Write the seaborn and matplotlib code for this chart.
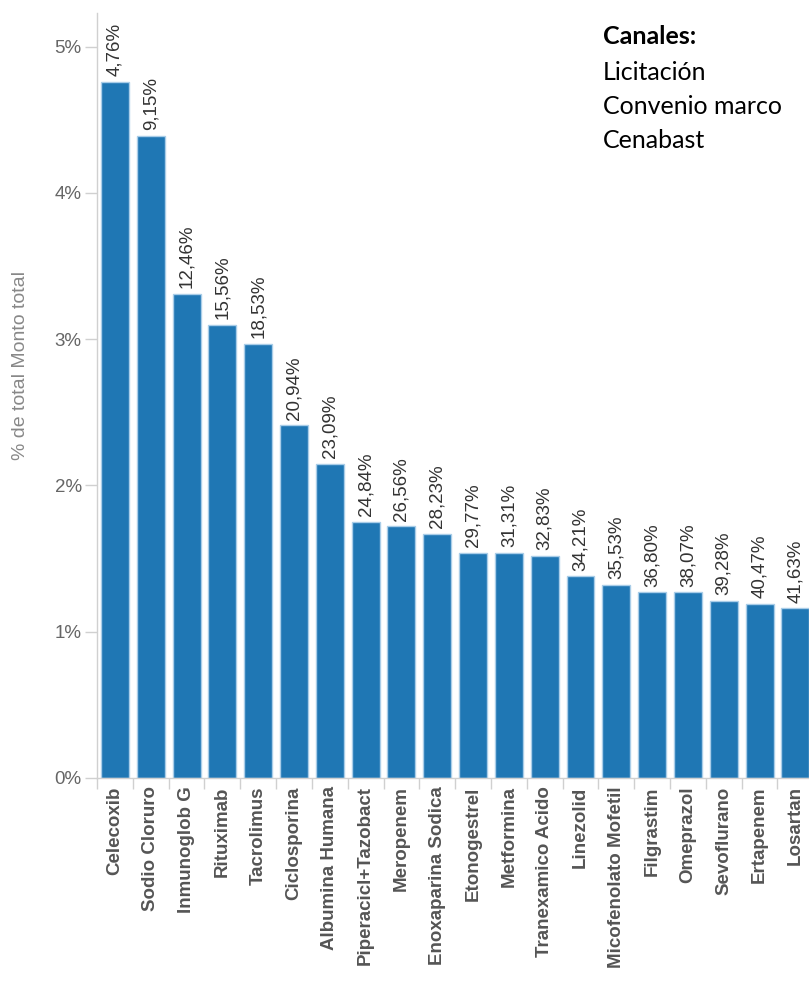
import matplotlib
matplotlib.use("Agg")
import matplotlib.pyplot as plt
import seaborn as sns
import pandas as pd
from matplotlib.ticker import FixedLocator

categories = ["Celecoxib", "Sodio Cloruro", "Inmunoglob G", "Rituximab", "Tacrolimus",
              "Ciclosporina", "Albumina Humana", "Piperacicl+Tazobact", "Meropenem",
              "Enoxaparina Sodica", "Etonogestrel", "Metformina", "Tranexamico Acido",
              "Linezolid", "Micofenolato Mofetil", "Filgrastim", "Omeprazol",
              "Sevoflurano", "Ertapenem", "Losartan"]
values = [4.76, 4.39, 3.31, 3.10, 2.97, 2.41, 2.15, 1.75, 1.72, 1.67,
          1.54, 1.54, 1.52, 1.38, 1.32, 1.27, 1.27, 1.21, 1.19, 1.16]
cum_labels = ["4,76%", "9,15%", "12,46%", "15,56%", "18,53%", "20,94%", "23,09%",
              "24,84%", "26,56%", "28,23%", "29,77%", "31,31%", "32,83%", "34,21%",
              "35,53%", "36,80%", "38,07%", "39,28%", "40,47%", "41,63%"]
ytick_vals = [0, 1, 2, 3, 4, 5]
ytick_labels = ["0%", "1%", "2%", "3%", "4%", "5%"]
legend_title = "Canales:"
legend_items = ["Licitación", "Convenio marco", "Cenabast"]

sns.set_theme(style="white")
plt.rcParams['font.family'] = ['Liberation Sans', 'DejaVu Sans']

df = pd.DataFrame({"cat": categories, "val": values})

W, H = 809, 984
fig = plt.figure(figsize=(W / 100, H / 100), dpi=100)
left, right = 97 / W, 1.0
bottom, top = (H - 778) / H, (H - 13) / H
ax = fig.add_axes([left, bottom, right - left, top - bottom])

sns.barplot(data=df, x="cat", y="val", color="#1f77b4", saturation=1, width=0.78,
            edgecolor="#a9cde8", linewidth=1, ax=ax)

ax.set_xlim(-0.5, 19.38)
ax.set_ylim(0, 5.23)

ax.bar_label(ax.containers[0], labels=cum_labels, rotation=90, padding=4,
             fontsize=13.5, color="#333333")

ax.set_yticks(ytick_vals)
ax.set_yticklabels(ytick_labels, fontsize=13.5, color="#666666")
ax.tick_params(axis="y", length=9, width=1, color="#d0d0d0", pad=2, left=True)

ax.set_xticks(range(len(categories)))
ax.set_xticklabels(categories, rotation=90, fontsize=13.5, fontweight="bold",
                   color="#555555")
ax.tick_params(axis="x", length=0, pad=6)
ax.xaxis.set_minor_locator(FixedLocator([i + 0.5 for i in range(-1, len(categories))]))
ax.tick_params(axis="x", which="minor", length=8, width=1, color="#d0d0d0", bottom=True)

ax.set_xlabel("")
ax.set_ylabel("% de total Monto total", fontsize=14, color="#888888",
              va="center")
ax.yaxis.set_label_coords((21 - 97) / (W - 97), (778 - 365) / 765)

for s in ["top", "right"]:
    ax.spines[s].set_visible(False)
for s in ["left", "bottom"]:
    ax.spines[s].set_color("#d0d0d0")
    ax.spines[s].set_linewidth(1)

fx = 603 / W
fig.text(fx, 1 - 37 / H, legend_title, fontsize=18, fontweight="bold", color="black",
         family=["Lato", "DejaVu Sans"], va="center", ha="left")
for i, t in enumerate(legend_items):
    fig.text(fx, 1 - (72 + 34 * i) / H, t, fontsize=18, color="black",
             family=["Lato", "DejaVu Sans"], va="center", ha="left")

fig.savefig("out.png", dpi=100)
